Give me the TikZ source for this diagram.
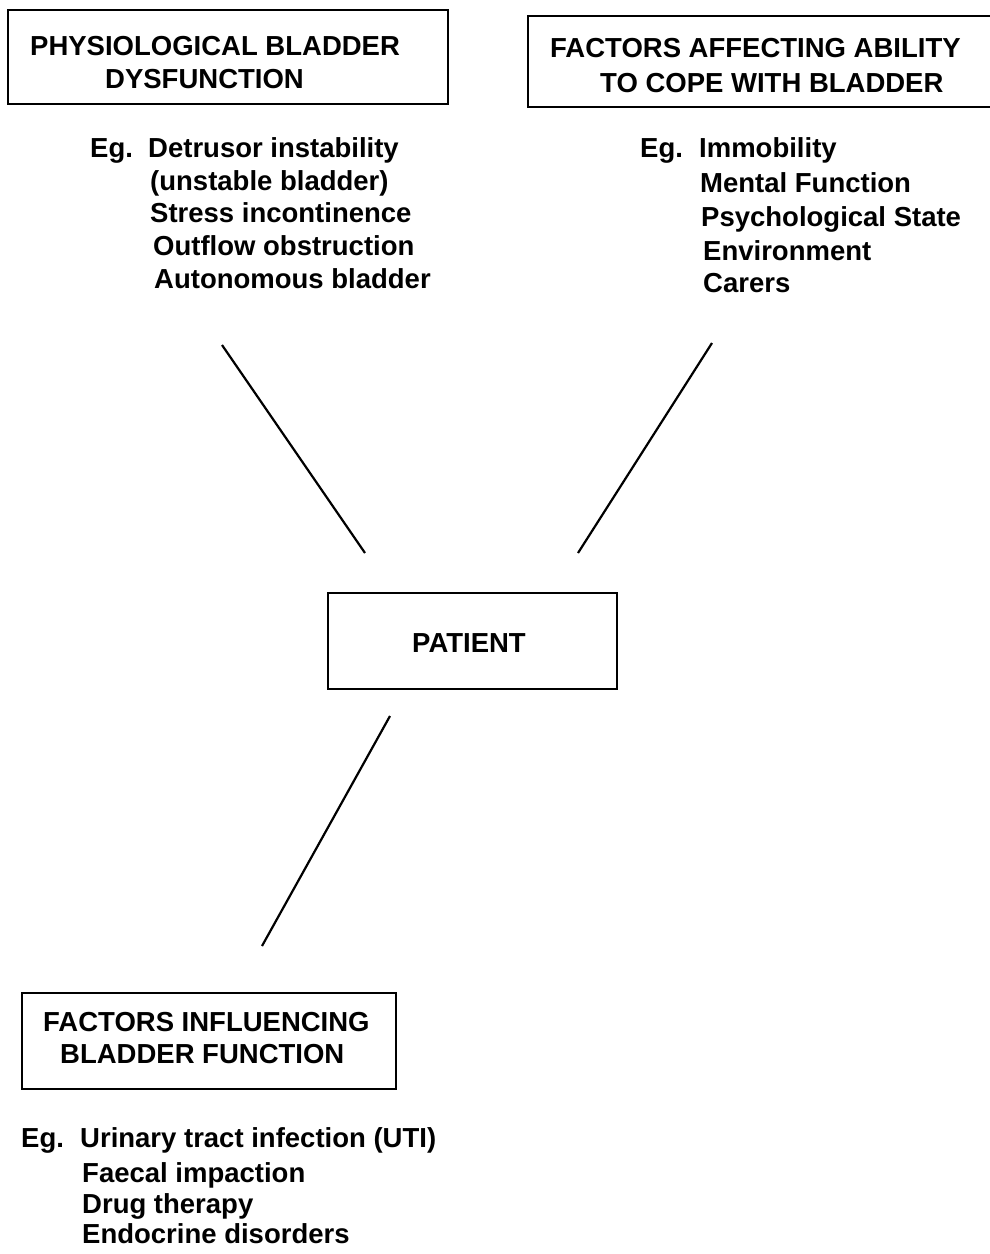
\documentclass[tikz,border=0pt]{standalone}
\usepackage{fontspec}
\setmainfont{Liberation Sans}
\begin{document}
\begin{tikzpicture}[x=1pt,y=-1pt,
  box/.style={draw, line width=2.2pt, inner sep=0pt},
  txt/.style={anchor=base west, inner sep=0pt, font=\fontsize{27.5}{33}\selectfont\bfseries},
  link/.style={line width=2.2pt}]
\useasboundingbox (0,0) rectangle (990,1254);
\clip (0,0) rectangle (990,1254);

% boxes
\node[box, minimum width=440pt, minimum height=94pt] (b1) at (228,57) {};
\node[box, minimum width=472pt, minimum height=91pt] (b2) at (764,61.5) {};
\node[box, minimum width=289pt, minimum height=96pt] (pat) at (472.5,641) {};
\node[box, minimum width=374pt, minimum height=96pt] (b3) at (209,1041) {};

% box titles
\node[txt] (t1a) at (30,55) {PHYSIOLOGICAL BLADDER};
\node[txt] (t1b) at (105,88) {DYSFUNCTION};
\node[txt] (t2a) at (550,57) {FACTORS AFFECTING ABILITY};
\node[txt] (t2b) at (600,92) {TO COPE WITH BLADDER};
\node[txt] (tp) at (412,652) {PATIENT};
\node[txt] (t3a) at (43,1031) {FACTORS INFLUENCING};
\node[txt] (t3b) at (60,1063) {BLADDER FUNCTION};

% left list
\node[txt] (eg1) at (90,157) {Eg.};
\node[txt] (l1) at (148,157) {Detrusor instability};
\node[txt] (l2) at (150,190) {(unstable bladder)};
\node[txt] (l3) at (150,222) {Stress incontinence};
\node[txt] (l4) at (153,255) {Outflow obstruction};
\node[txt] (l5) at (154,288) {Autonomous bladder};

% right list
\node[txt] (eg2) at (640,157) {Eg.};
\node[txt] (r1) at (699,157) {Immobility};
\node[txt] (r2) at (700,192) {Mental Function};
\node[txt] (r3) at (701,226) {Psychological State};
\node[txt] (r4) at (703,260) {Environment};
\node[txt] (r5) at (703,292) {Carers};

% bottom list
\node[txt] (eg3) at (21,1147) {Eg.};
\node[txt] (d1) at (80,1147) {Urinary tract infection (UTI)};
\node[txt] (d2) at (82,1182) {Faecal impaction};
\node[txt] (d3) at (82,1213) {Drug therapy};
\node[txt] (d4) at (82,1243) {Endocrine disorders};

% connectors
\coordinate (c1a) at (222,345);
\coordinate (c1b) at (365,553);
\coordinate (c2a) at (712,343);
\coordinate (c2b) at (578,553);
\coordinate (c3a) at (390,716);
\coordinate (c3b) at (262,946);
\draw[link] (c1a) -- (c1b);
\draw[link] (c2a) -- (c2b);
\draw[link] (c3a) -- (c3b);
\end{tikzpicture}
\end{document}
